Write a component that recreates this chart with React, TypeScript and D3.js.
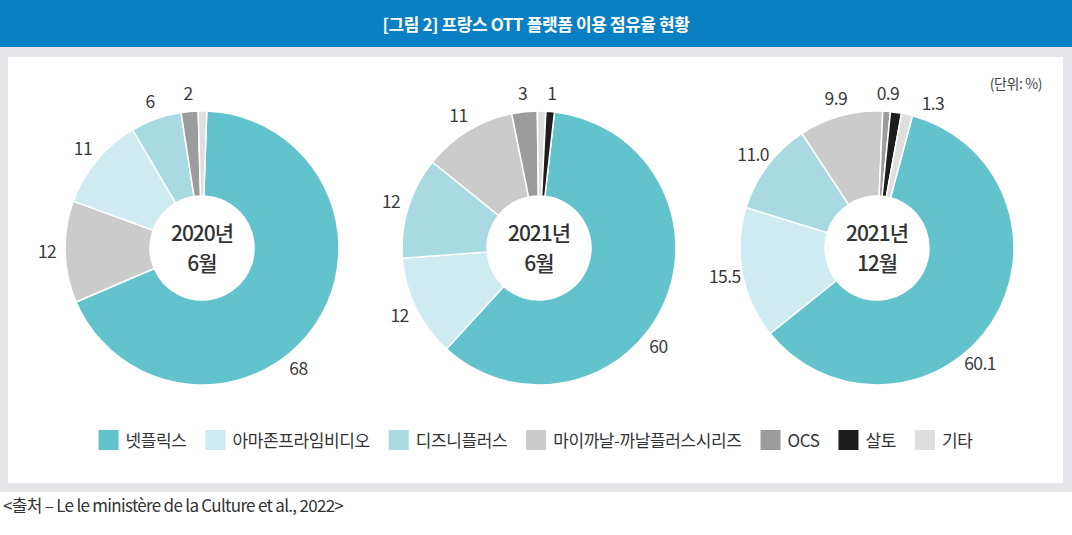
import * as d3 from 'd3'
import React, { useEffect, useRef } from 'react'

const platforms = ['넷플릭스', '아마존프라임비디오', '디즈니플러스', '마이까날-까날플러스시리즈', 'OCS', '살토', '기타']
const platformColors = ['#63c3cd', '#cdebf1', '#a9dae2', '#cbcbcb', '#9c9c9c', '#1e1c1d', '#dedede']

const periodYears = ['2020년', '2021년', '2021년']
const periodMonths = ['6월', '6월', '12월']

// share in %, same order as platforms
const share2020Jun = [68, 11, 6, 12, 2, 0, 1]
const share2021Jun = [60, 12, 12, 11, 3, 1, 1]
const share2021Dec = [60.1, 15.5, 11.0, 9.9, 0.9, 1.3, 1.3]

// printed labels (기타 is not labelled)
const labels2020Jun = ['68', '11', '6', '12', '2', '', '']
const labels2021Jun = ['60', '12', '12', '11', '3', '1', '']
const labels2021Dec = ['60.1', '15.5', '11.0', '9.9', '0.9', '1.3', '']

// slice order, clockwise from the top
const order2020Jun = [0, 3, 1, 2, 4, 6]
const order2021Jun = [0, 1, 2, 3, 4, 6, 5]
const order2021Dec = [0, 1, 2, 3, 4, 5, 6]

const font = '"Noto Sans CJK KR", "Noto Sans", sans-serif'

export default function App() {
  const ref = useRef<SVGSVGElement>(null)

  useEffect(() => {
    document.body.style.margin = '0'
    if (!ref.current) return
    const svg = d3.select(ref.current)
    svg.selectAll('*').remove()

    const width = 1072

    // frame
    svg.append('rect').attr('x', 0).attr('y', 0).attr('width', width).attr('height', 48).attr('fill', '#0a80c4')
    svg.append('rect').attr('x', 0).attr('y', 47).attr('width', width).attr('height', 445).attr('fill', '#e6e6ea')
    svg.append('rect').attr('x', 8).attr('y', 57).attr('width', 1055).attr('height', 426).attr('fill', '#fff')

    svg
      .append('text')
      .attr('x', width / 2)
      .attr('y', 31)
      .attr('text-anchor', 'middle')
      .attr('fill', '#fff')
      .attr('font-family', font)
      .attr('font-weight', 700)
      .attr('font-size', 17)
      .attr('letter-spacing', -0.4)
      .text('[그림 2] 프랑스 OTT 플랫폼 이용 점유율 현황')

    svg
      .append('text')
      .attr('x', 1042)
      .attr('y', 89)
      .attr('text-anchor', 'end')
      .attr('fill', '#444')
      .attr('font-family', font)
      .attr('font-size', 14)
      .attr('letter-spacing', -0.4)
      .text('(단위: %)')

    const color = d3.scaleOrdinal<string, string>().domain(platforms).range(platformColors)

    const pies = [
      { share: share2020Jun, labels: labels2020Jun, order: order2020Jun, cx: 202, start: 2 },
      { share: share2021Jun, labels: labels2021Jun, order: order2021Jun, cx: 539, start: 6.5 },
      { share: share2021Dec, labels: labels2021Dec, order: order2021Dec, cx: 877, start: 15 },
    ]
    const cy = 248
    const rad = (deg: number) => (deg * Math.PI) / 180

    const arc = d3
      .arc<d3.PieArcDatum<number>>()
      .innerRadius(52)
      .outerRadius(137)

    pies.forEach((p, k) => {
      const pie = d3
        .pie<number>()
        .sort(null)
        .value(i => p.share[i])
        .startAngle(rad(p.start))
        .endAngle(rad(p.start) + 2 * Math.PI)

      const arcs = pie(p.order)
      const g = svg.append('g').attr('transform', `translate(${p.cx},${cy})`)

      g.selectAll('path')
        .data(arcs)
        .join('path')
        .attr('d', arc)
        .attr('fill', d => color(platforms[d.data]))
        .attr('stroke', '#fff')
        .attr('stroke-width', 1.5)

      // labels outside the ring, nudged clockwise when they collide
      const labelR = 155
      const placed: { x: number; y: number; w: number }[] = []
      arcs.forEach(d => {
        const text = p.labels[d.data]
        if (!text) return
        const w = text.length * 9.5
        // the big slice carries its label a little past the middle
        const f = d.endAngle - d.startAngle > Math.PI ? 0.57 : 0.5
        let a = d.startAngle + (d.endAngle - d.startAngle) * f
        let x = 0
        let y = 0
        for (let n = 0; n < 200; n++) {
          x = labelR * Math.sin(a)
          y = -labelR * Math.cos(a)
          const hit = placed.some(q => Math.abs(q.x - x) < (q.w + w) / 2 + 16 && Math.abs(q.y - y) < 20)
          if (!hit) break
          a += 0.01
        }
        placed.push({ x, y, w })
        g.append('text')
          .attr('x', x)
          .attr('y', y)
          .attr('dy', '0.35em')
          .attr('text-anchor', 'middle')
          .attr('fill', '#3a3a3a')
          .attr('font-family', font)
          .attr('font-size', 17.5)
          .attr('letter-spacing', -0.6)
          .text(text)
      })

      // centre caption, two separate lines
      ;[periodYears[k], periodMonths[k]].forEach((line, j) => {
        g.append('text')
          .attr('x', 0)
          .attr('y', j === 0 ? -14 : 16)
          .attr('dy', '0.35em')
          .attr('text-anchor', 'middle')
          .attr('fill', '#333')
          .attr('font-family', font)
          .attr('font-weight', 500)
          .attr('font-size', 21)
          .attr('letter-spacing', -1)
          .text(line)
      })
    })

    // legend
    const legend = svg.append('g')
    let offset = 0
    platforms.forEach(name => {
      const item = legend.append('g').attr('transform', `translate(${offset},0)`)
      item.append('rect').attr('x', 0).attr('y', 430).attr('width', 20).attr('height', 20).attr('fill', color(name))
      const t = item
        .append('text')
        .attr('x', 27)
        .attr('y', 447)
        .attr('fill', '#333')
        .attr('font-family', font)
        .attr('font-size', 17)
        .attr('letter-spacing', -0.4)
        .text(name)
      const tw = (t.node() as SVGTextElement).getComputedTextLength()
      offset += 27 + tw + 19
    })
    const legendWidth = offset - 19
    legend.attr('transform', `translate(${width / 2 - legendWidth / 2 - 0.5},0)`)

    svg
      .append('text')
      .attr('x', 3)
      .attr('y', 512)
      .attr('fill', '#333')
      .attr('font-family', font)
      .attr('font-size', 17)
      .attr('letter-spacing', -0.7)
      .text('<출처 – Le le ministère de la Culture et al., 2022>')
  }, [])

  return <svg ref={ref} width={1072} height={535} style={{ display: 'block' }} />
}
